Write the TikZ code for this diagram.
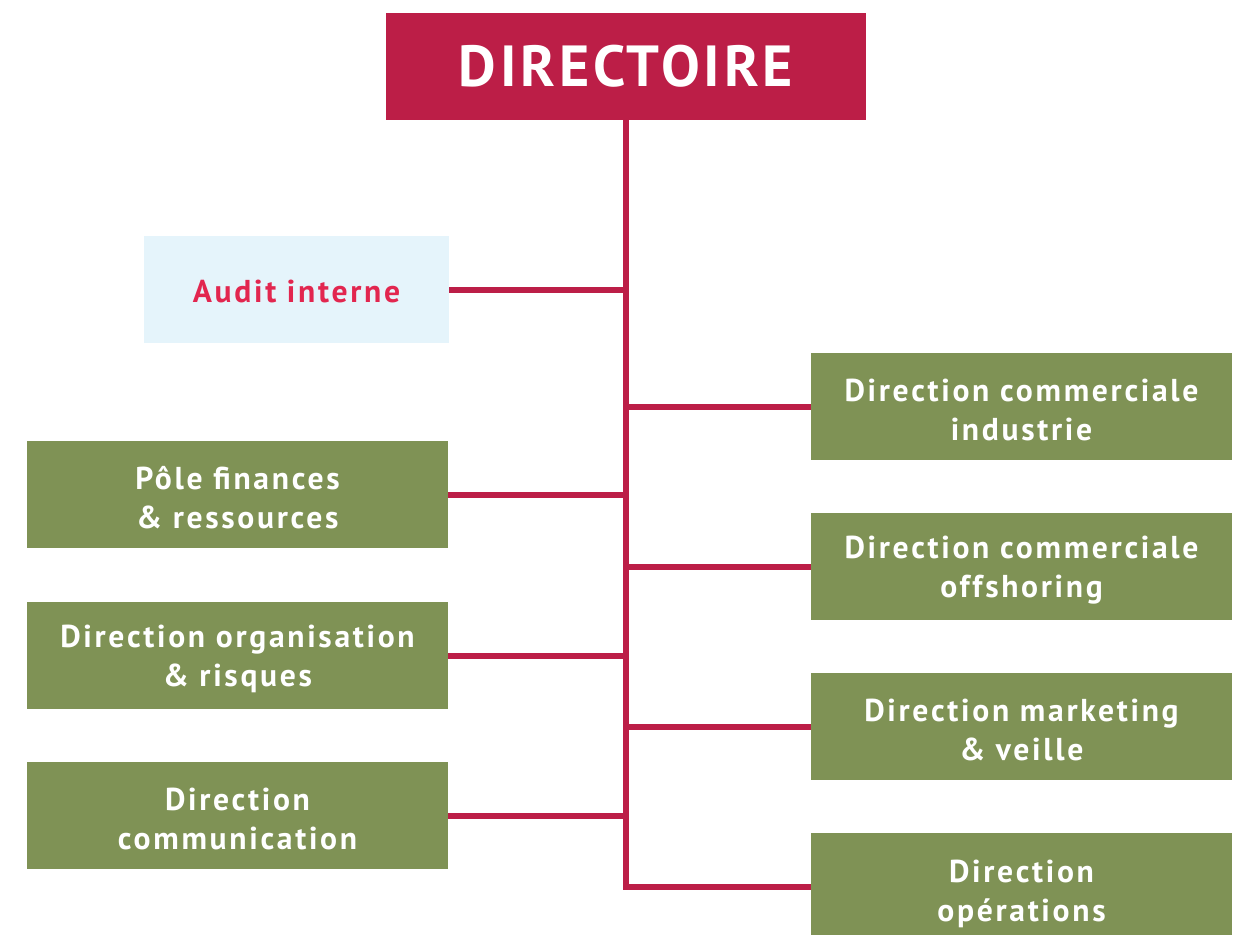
\documentclass[tikz,border=0pt]{standalone}
\usepackage{fontspec}
\setmainfont{PT Sans}
\newfontfamily\boxfont[LetterSpace=8.5]{PT Sans Bold}
\newfontfamily\titlefont[LetterSpace=6.5]{PT Sans Bold}
\definecolor{dirred}{HTML}{BC1E47}
\definecolor{auditbg}{HTML}{E5F4FB}
\definecolor{audittxt}{HTML}{E2264F}
\definecolor{boxgreen}{HTML}{7F9255}
\tikzset{
  titlebox/.style={fill=dirred, text=white, minimum width=9.6cm, minimum height=2.14cm, inner sep=0pt, font=\titlefont\fontsize{33}{36}\selectfont},
  greenbox/.style={fill=boxgreen, minimum width=8.42cm, minimum height=2.14cm, inner sep=0pt},
  auditbox/.style={fill=auditbg, minimum width=6.1cm, minimum height=2.14cm, inner sep=0pt},
  boxtext/.style={text=white, inner sep=0pt, align=center, font=\boxfont\fontsize{18}{22.3}\selectfont},
  audittext/.style={boxtext, text=audittxt},
  link/.style={draw=dirred, line width=0.13cm}
}
\begin{document}
\begin{tikzpicture}[x=0.02cm,y=-0.02cm]
\useasboundingbox (0,0) rectangle (1243,934);
\node[titlebox] (dir) at (626,66.5) {DIRECTOIRE};
\node[auditbox] (audit) at (296.5,289.5) {};
\node[greenbox] (pole) at (237.5,494.5) {};
\node[greenbox] (orga) at (237.5,655.5) {};
\node[greenbox] (comm) at (237.5,815.5) {};
\node[greenbox] (ind) at (1021.5,406.5) {};
\node[greenbox] (off) at (1021.5,566.5) {};
\node[greenbox] (mkt) at (1021.5,726.5) {};
\node[greenbox] (ops) at (1021.5,886.5) {};
\node[audittext] (audittx) at ([yshift=-1pt]audit.center) {Audit interne};
\node[boxtext] (polet) at ([yshift=-2pt]pole.center) {Pôle finances\\\& ressources};
\node[boxtext] (orgat) at ([yshift=-2pt]orga.center) {Direction organisation\\\& risques};
\node[boxtext] (commt) at ([yshift=-2pt]comm.center) {Direction\\communication};
\node[boxtext] (indt) at ([yshift=-2pt]ind.center) {Direction commerciale\\industrie};
\node[boxtext] (offt) at ([yshift=-2pt]off.center) {Direction commerciale\\offshoring};
\node[boxtext] (mktt) at ([yshift=-2pt]mkt.center) {Direction marketing\\\& veille};
\node[boxtext] (opst) at ([yshift=-4pt]ops.center) {Direction\\opérations};
\coordinate (corner) at (626,887);
\draw[link] (dir.south) -- (corner) -- (corner -| ops.west);
\foreach \n in {audit,pole,orga,comm}{
  \draw[link] ([yshift=-0.01cm]\n.east) -- ([yshift=-0.01cm]\n.east -| dir.south);
}
\foreach \n in {ind,off,mkt}{
  \draw[link] ([yshift=-0.01cm]\n.west) -- ([yshift=-0.01cm]\n.west -| dir.south);
}
\end{tikzpicture}
\end{document}
